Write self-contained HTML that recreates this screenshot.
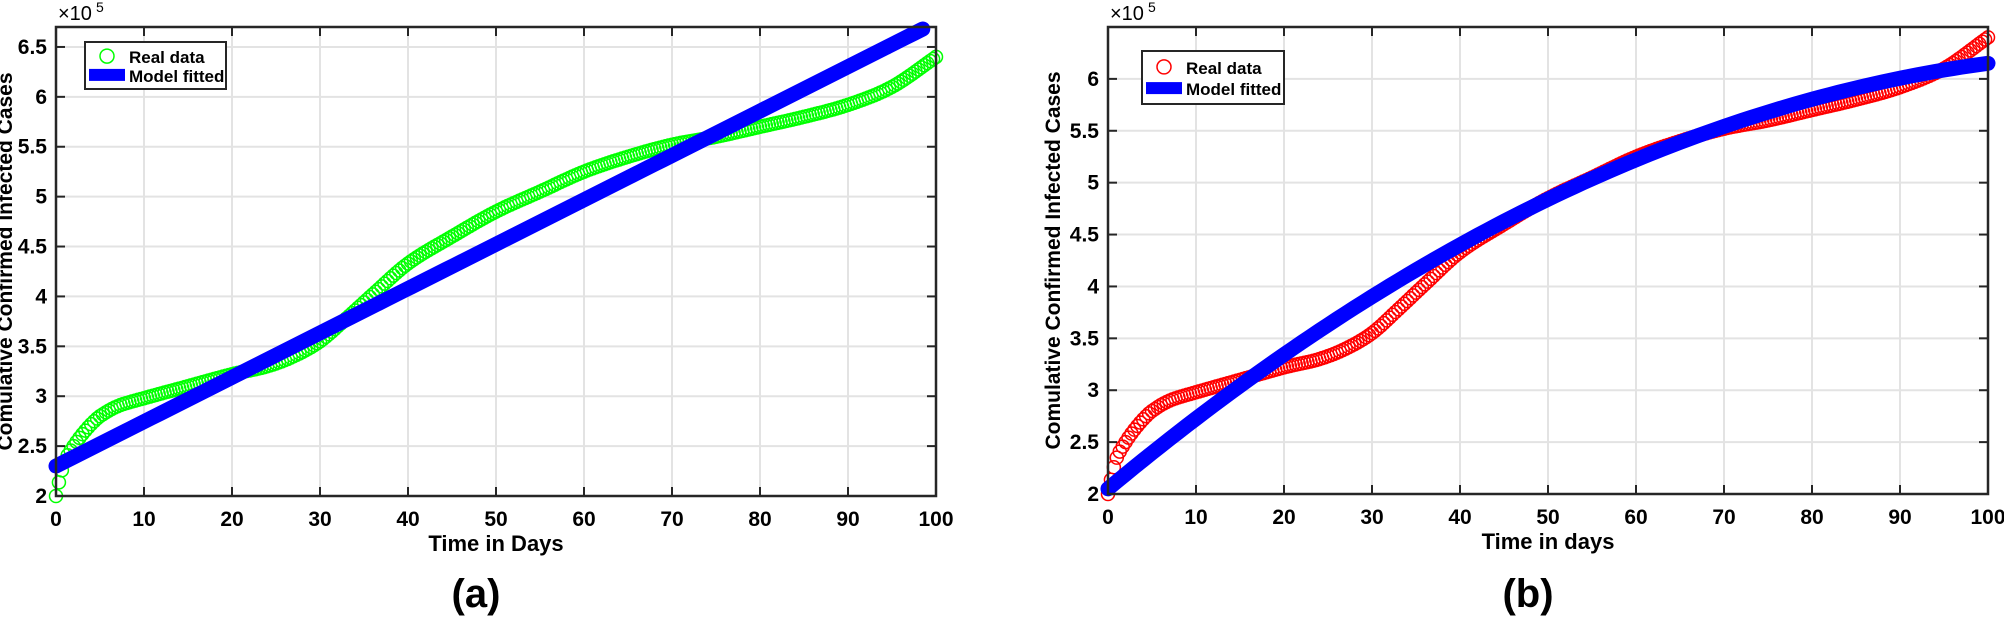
<!DOCTYPE html>
<html><head><meta charset="utf-8">
<style>
html,body{margin:0;padding:0;background:#fff;}
svg{display:block;font-family:"Liberation Sans",Arial,sans-serif;font-weight:bold;}
</style></head>
<body>
<svg id="s" width="2004" height="620" xmlns="http://www.w3.org/2000/svg"></svg>
<script>
const NS="http://www.w3.org/2000/svg";
const S=document.getElementById('s');
function el(t,a,txt){const e=document.createElementNS(NS,t);for(const k in a)e.setAttribute(k,a[k]);if(txt!==undefined)e.textContent=txt;S.appendChild(e);return e;}
const pts=[[0,2.0],[0.5,2.2],[1,2.35],[2,2.5],[3,2.62],[4,2.72],[5,2.8],[7,2.9],[10,2.98],[15,3.1],[20,3.22],[24,3.3],[27,3.4],[30,3.55],[33,3.78],[36,4.02],[40,4.33],[45,4.6],[50,4.85],[55,5.05],[60,5.25],[65,5.4],[70,5.52],[75,5.6],[80,5.7],[85,5.8],[90,5.92],[95,6.1],[100,6.4]];
function real(t){for(let i=1;i<pts.length;i++){if(t<=pts[i][0]){const a=pts[i-1],b=pts[i];const u=(t-a[0])/(b[0]-a[0]);
  const p0=pts[Math.max(i-2,0)],p3=pts[Math.min(i+1,pts.length-1)];
  const m1=(b[1]-p0[1])/(b[0]-p0[0])*(b[0]-a[0]), m2=(p3[1]-a[1])/(p3[0]-a[0])*(b[0]-a[0]);
  const h00=2*u*u*u-3*u*u+1,h10=u*u*u-2*u*u+u,h01=-2*u*u*u+3*u*u,h11=u*u*u-u*u;
  return h00*a[1]+h10*m1+h01*b[1]+h11*m2;}}return 6.4;}
function plot(x0,x1,y0,y1,ymin,ymax,yt,color,fit,tend,xlab,ylx,cap,leg){
  const X=t=>x0+(x1-x0)*t/100, Y=v=>y1-(y1-y0)*(v-ymin)/(ymax-ymin);
  for(let t=10;t<100;t+=10)el('line',{x1:X(t),x2:X(t),y1:y0,y2:y1,stroke:'#e3e3e3','stroke-width':2});
  yt.forEach(v=>{if(v>ymin)el('line',{x1:x0,x2:x1,y1:Y(v),y2:Y(v),stroke:'#e3e3e3','stroke-width':2});});
  let d='';
  for(let i=0;i<=300;i++){const t=i/3;d+=`M${X(t)+6.5},${Y(real(t))}a6.5,6.5 0 1,0 -13,0a6.5,6.5 0 1,0 13,0`;}
  el('path',{d:d,fill:'none',stroke:color,'stroke-width':1.5});
  let p='';for(let i=0;i<=100;i++){const t=i*tend/100;p+=(i?'L':'M')+X(t)+','+Y(fit(t));}
  el('path',{d:p,fill:'none',stroke:'#0000ff','stroke-width':15,'stroke-linecap':'round','stroke-linejoin':'round'});
  el('rect',{x:x0,y:y0,width:x1-x0,height:y1-y0,fill:'none',stroke:'#262626','stroke-width':2.5});
  for(let t=0;t<=100;t+=10){el('line',{x1:X(t),x2:X(t),y1:y1,y2:y1-9,stroke:'#262626','stroke-width':2});el('line',{x1:X(t),x2:X(t),y1:y0,y2:y0+9,stroke:'#262626','stroke-width':2});
    el('text',{x:X(t),y:y1+30,'font-size':21,'text-anchor':'middle'},t);}
  yt.forEach(v=>{el('line',{x1:x0,x2:x0+9,y1:Y(v),y2:Y(v),stroke:'#262626','stroke-width':2});el('line',{x1:x1,x2:x1-9,y1:Y(v),y2:Y(v),stroke:'#262626','stroke-width':2});
    el('text',{x:x0-9,y:Y(v)+7,'font-size':21,'text-anchor':'end'},v);});
  el('text',{x:x0+2,y:y0-7,'font-size':20,'font-weight':'normal'},'×10');
  el('text',{x:x0+40,y:y0-15,'font-size':14,'font-weight':'normal'},'5');
  el('text',{x:(x0+x1)/2,y:y1+55,'font-size':22,'text-anchor':'middle'},xlab);
  el('text',{x:ylx,y:(y0+y1)/2,'font-size':21,'text-anchor':'middle',transform:`rotate(-90 ${ylx} ${(y0+y1)/2})`},'Comulative Confirmed Infected Cases');
  el('text',{x:(x0+x1)/2-20,y:607,'font-size':40,'text-anchor':'middle'},cap);
  const [lx,ly,lw,lh]=leg;
  el('rect',{x:lx,y:ly,width:lw,height:lh,fill:'#fff',stroke:'#262626','stroke-width':2});
  el('circle',{cx:lx+22,cy:ly+lh*0.3,r:7,fill:'none',stroke:color,'stroke-width':1.5});
  el('text',{x:lx+44,y:ly+lh*0.3+7,'font-size':17},'Real data');
  el('rect',{x:lx+4,y:ly+lh*0.7-6,width:36,height:12,fill:'#0000ff'});
  el('text',{x:lx+44,y:ly+lh*0.7+7,'font-size':17},'Model fitted');
}
plot(56,936,27,496,2,6.7,[2,2.5,3,3.5,4,4.5,5,5.5,6,6.5],'#00ff00',t=>2.3+(6.68-2.3)*t/98.5,98.5,'Time in Days',12,'(a)',[85,42,141,47]);
plot(1108,1988,27,494,2,6.5,[2,2.5,3,3.5,4,4.5,5,5.5,6],'#ff0000',t=>2.05+0.0706*t-0.000296*t*t,100,'Time in days',1060,'(b)',[1142,51,142,53]);
</script>
</body></html>
